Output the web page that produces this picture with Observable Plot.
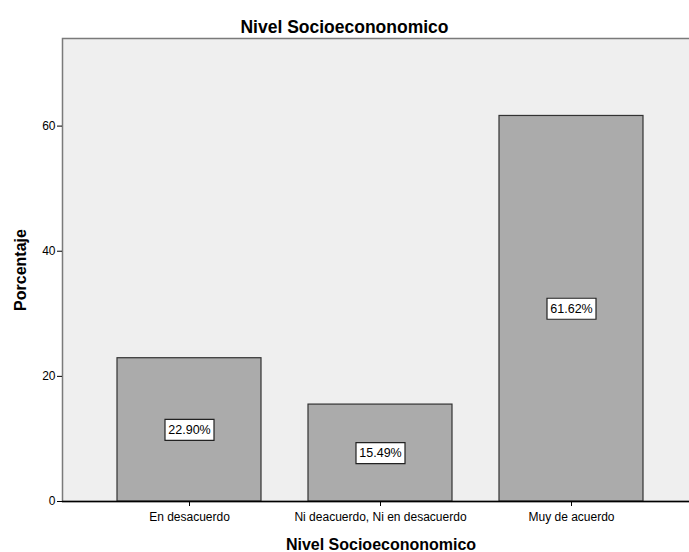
<!DOCTYPE html>
<html>
<head>
<meta charset="utf-8">
<script src="https://cdn.jsdelivr.net/npm/d3@7"></script>
<script src="https://cdn.jsdelivr.net/npm/@observablehq/plot@0.6"></script>
<style>
  html, body { margin: 0; padding: 0; background: #fff; }
  body { font-family: Arial, "Liberation Sans", sans-serif; }
  #title { box-sizing: border-box; width: 689px; height: 37px; padding-top: 18px; line-height: 18px;
           text-align: center; font-weight: bold; font-size: 17.5px; color: #000; }
  #chart svg { display: block; }
</style>
</head>
<body>
<div id="title">Nivel Socioecononomico</div>
<div id="chart"></div>
<script>
const categories = ["En desacuerdo", "Ni deacuerdo, Ni en desacuerdo", "Muy de acuerdo"];
const percentages = [22.90, 15.49, 61.62];
const percentLabels = ["22.90%", "15.49%", "61.62%"];
const yTicks = [0, 20, 40, 60];
const xTitle = "Nivel Socioecononomico";
const yTitle = "Porcentaje";

const data = categories.map((c, i) => ({cat: c, pct: percentages[i], label: percentLabels[i]}));

const boxSymbol = { draw(ctx) { ctx.rect(-24.5, -10.5, 49, 21); } };

// The reference's plot area runs past the right edge of the image; lay out at 699 px and crop to 689.
const layoutWidth = 699, pageWidth = 689, svgHeight = 515;

const chart = Plot.plot({
  width: layoutWidth,
  height: svgHeight,
  marginTop: 1,
  marginBottom: 51,
  marginLeft: 62,
  marginRight: 0,
  style: { fontFamily: "Arial, 'Liberation Sans', sans-serif", fontSize: "12px", color: "#000", background: "transparent" },
  x: { domain: categories, paddingInner: 0.246, paddingOuter: 0.29 },
  y: { domain: [0, 74] },
  marks: [
    Plot.frame({ fill: "#efefef", stroke: "#7a7a7a", strokeWidth: 1.5 }),
    Plot.barY(data, { x: "cat", y: "pct", fill: "#ababab", stroke: "#333", strokeWidth: 1.2 }),
    Plot.ruleX([0], { frameAnchor: "left", stroke: "#000", strokeWidth: 1.2 }),
    Plot.ruleY([0], { stroke: "#000", strokeWidth: 1.5 }),
    Plot.dot(data, { x: "cat", y: d => d.pct / 2, symbol: boxSymbol, r: 5, fill: "#fff", stroke: "#222", strokeWidth: 1.2 }),
    Plot.text(data, { x: "cat", y: d => d.pct / 2, text: "label", fontSize: 12.5, fill: "#000" }),
    Plot.axisY({ ticks: yTicks, tickSize: 5, tickPadding: 2, fontSize: 12, label: yTitle, labelAnchor: "center", labelOffset: 48 }),
    Plot.axisX({ tickSize: 5, tickPadding: 6, fontSize: 12, label: xTitle, labelAnchor: "center", labelOffset: 48 })
  ]
});
chart.setAttribute("width", pageWidth);
chart.setAttribute("viewBox", `0 0 ${pageWidth} ${svgHeight}`);
document.getElementById("chart").append(chart);
d3.select(chart).selectAll("[aria-label='y-axis label'] text, [aria-label='x-axis label'] text")
  .style("font-weight", "bold").style("font-size", "16px")
  .each(function () {
    this.textContent = this.textContent.replace(/\s*[→↑←↓]\s*/g, "");
  });
</script>
</body>
</html>
